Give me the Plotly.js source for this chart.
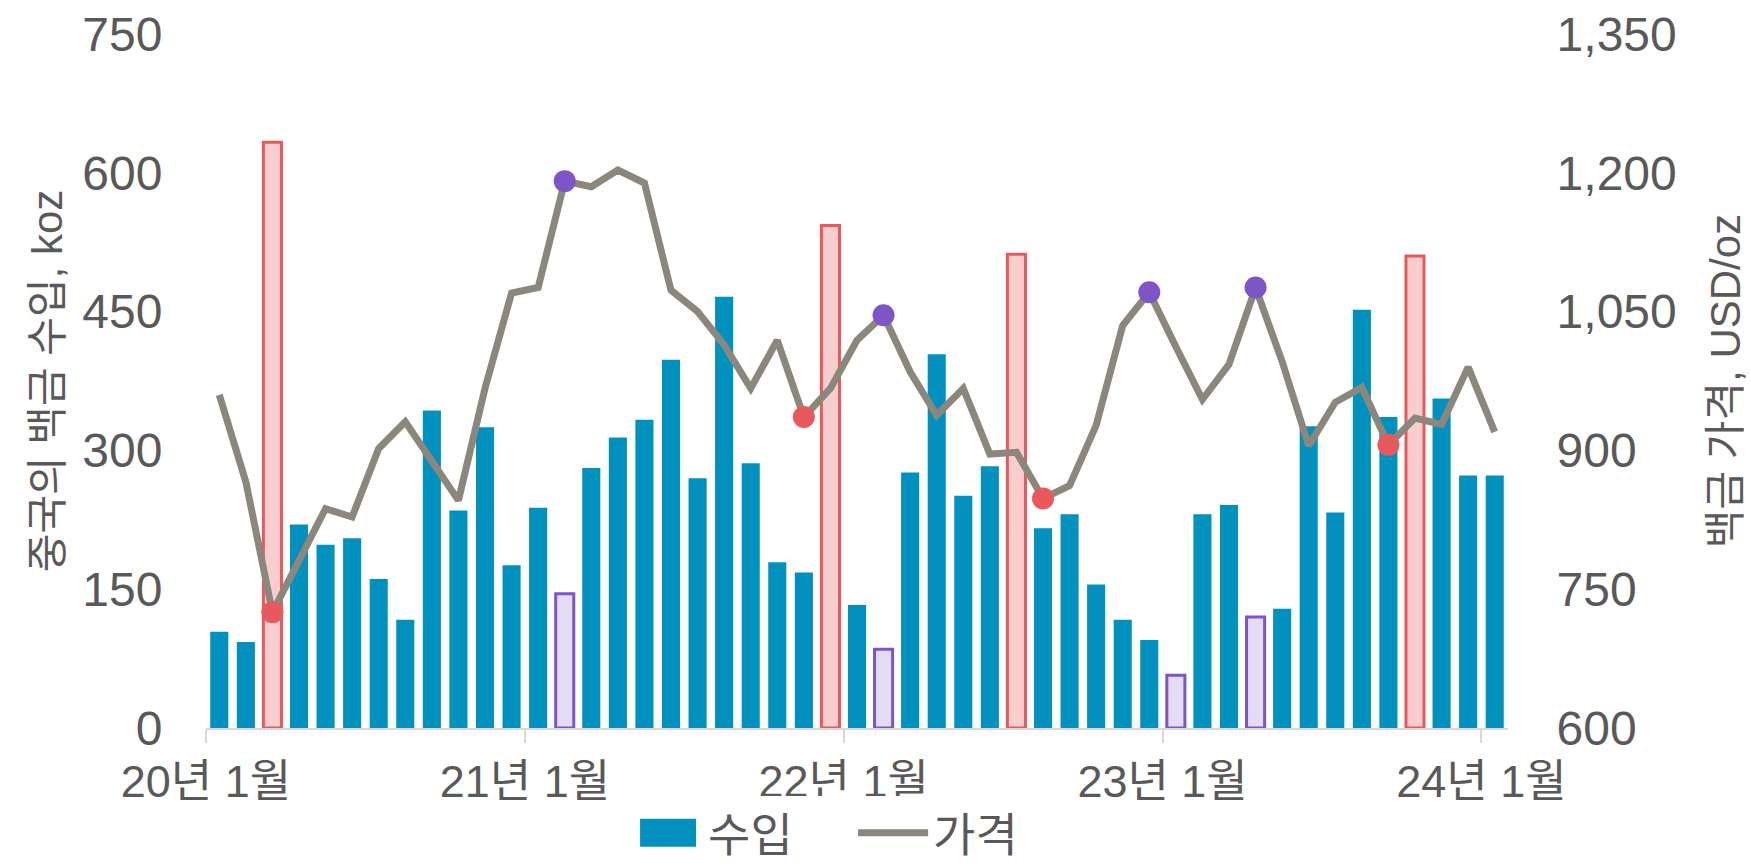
<!DOCTYPE html>
<html>
<head>
<meta charset="utf-8">
<script src="https://cdn.plot.ly/plotly-3.0.1.min.js"></script>
<style>
  html, body { margin: 0; padding: 0; background: #ffffff; }
  #chart { width: 1751px; height: 867px; }
</style>
</head>
<body>
<div id="chart"></div>
<script>
// Months: 2020-01 .. 2024-01
const months = [
  '2020-01','2020-02','2020-03','2020-04','2020-05','2020-06','2020-07','2020-08','2020-09','2020-10','2020-11','2020-12',
  '2021-01','2021-02','2021-03','2021-04','2021-05','2021-06','2021-07','2021-08','2021-09','2021-10','2021-11','2021-12',
  '2022-01','2022-02','2022-03','2022-04','2022-05','2022-06','2022-07','2022-08','2022-09','2022-10','2022-11','2022-12',
  '2023-01','2023-02','2023-03','2023-04','2023-05','2023-06','2023-07','2023-08','2023-09','2023-10','2023-11','2023-12',
  '2024-01'
];

// China platinum imports, koz
const imports = [
  104, 93, 633, 220, 198, 205, 161, 117, 343, 235, 325, 176,
  238, 145, 281, 314, 333, 398, 270, 466, 286, 179, 168, 543,
  133, 85, 276, 404, 251, 283, 512, 216, 231, 155, 117, 95,
  57, 231, 241, 120, 129, 326, 233, 452, 336, 510, 356, 273,
  273
];

// Platinum price, USD/oz
const prices = [
  960, 866, 725, 781, 837, 828, 902, 931, 889, 846, 967, 1070,
  1076, 1191, 1185, 1203, 1189, 1073, 1050, 1014, 967, 1019, 936, 967,
  1019, 1046, 985, 938, 967, 896, 898, 848, 862, 927, 1035, 1071,
  1012, 955, 993, 1076, 996, 905, 952, 968, 906, 935, 928, 990,
  920
];

// Highlighted months (by month label)
const redBarMonths = ['2020-03', '2021-12', '2022-07', '2023-10'];
const purpleBarMonths = ['2021-02', '2022-02', '2023-01', '2023-04'];
const redPointMonths = ['2020-03', '2021-11', '2022-08', '2023-09'];
const purplePointMonths = ['2021-02', '2022-02', '2022-12', '2023-04'];

// Tick labels
const tickMonths = ['2020-01', '2021-01', '2022-01', '2023-01', '2024-01'];
const tickLabels = ['20년 1월', '21년 1월', '22년 1월', '23년 1월', '24년 1월'];

const seriesNames = { bars: '수입', line: '가격' };
const yTitleLeft = '중국의 백금 수입, koz';
const yTitleRight = '백금 가격, USD/oz';

// ---- styling ----
const BLUE = '#0091BE';
const RED_LINE = '#E8595E', RED_FILL = '#F8CDCE';
const PUR_LINE = '#7E55C6', PUR_FILL = '#E3DCF2';
const GREY_LINE = '#8C877D';
const TEXT = '#595959';
const FONT = 'Liberation Sans, Arial, Noto Sans CJK KR, sans-serif';

const xIdx = months.map((m, i) => i);
const idxOf = m => months.indexOf(m);

const barFill = months.map(m => redBarMonths.includes(m) ? RED_FILL : (purpleBarMonths.includes(m) ? PUR_FILL : BLUE));
const barLine = months.map(m => redBarMonths.includes(m) ? RED_LINE : (purpleBarMonths.includes(m) ? PUR_LINE : BLUE));
const barLineW = months.map(m => (redBarMonths.includes(m) || purpleBarMonths.includes(m)) ? 3 : 0);

const ptMonths = redPointMonths.concat(purplePointMonths);
const ptX = ptMonths.map(idxOf);
const ptY = ptMonths.map(m => prices[idxOf(m)]);
const ptC = ptMonths.map(m => redPointMonths.includes(m) ? RED_LINE : PUR_LINE);

const traces = [
  {
    type: 'bar', name: seriesNames.bars, x: xIdx, y: imports, yaxis: 'y',
    marker: { color: barFill, line: { color: barLine, width: barLineW } },
    hoverinfo: 'skip'
  },
  {
    type: 'scatter', mode: 'lines', name: seriesNames.line, x: xIdx, y: prices, yaxis: 'y2',
    line: { color: GREY_LINE, width: 7 }, hoverinfo: 'skip'
  },
  {
    type: 'scatter', mode: 'markers', x: ptX, y: ptY, yaxis: 'y2', showlegend: false,
    marker: { color: ptC, size: 22, line: { width: 0 } }, hoverinfo: 'skip'
  }
];

const layout = {
  width: 1751, height: 867,
  margin: { l: 206, r: 243, t: 34, b: 139, autoexpand: false },
  paper_bgcolor: '#ffffff', plot_bgcolor: '#ffffff',
  font: { family: FONT, color: TEXT, size: 44 },
  bargap: 0.32,
  showlegend: true,
  legend: {
    orientation: 'h', x: 0.497, xanchor: 'center', y: -0.151, yanchor: 'middle',
    font: { size: 46, color: TEXT, family: FONT }, itemwidth: 70, traceorder: 'normal',
    entrywidth: 140, entrywidthmode: 'pixels'
  },
  xaxis: {
    range: [-0.5, 48.5],
    tickmode: 'array',
    tickvals: tickMonths.map(m => idxOf(m) - 0.5),
    ticktext: tickLabels,
    ticks: 'outside', ticklen: 13, tickwidth: 2, tickcolor: '#D9D9D9',
    showline: true, linecolor: '#D9D9D9', linewidth: 2,
    showgrid: false, zeroline: false,
    tickfont: { size: 45, color: TEXT, family: FONT }
  },
  yaxis: {
    range: [0, 750], tickvals: [0, 150, 300, 450, 600, 750],
    ticks: 'outside', ticklen: 33, tickcolor: 'rgba(0,0,0,0)',
    showline: false, showgrid: false, zeroline: false,
    tickfont: { size: 48, color: TEXT, family: FONT },
    title: { text: yTitleLeft, font: { size: 42, color: TEXT, family: FONT }, standoff: 6 }
  },
  yaxis2: {
    range: [600, 1350], tickvals: [600, 750, 900, 1050, 1200, 1350],
    tickformat: ',d', overlaying: 'y', side: 'right',
    ticks: 'outside', ticklen: 38, tickcolor: 'rgba(0,0,0,0)',
    showline: false, showgrid: false, zeroline: false,
    tickfont: { size: 48, color: TEXT, family: FONT },
    title: { text: yTitleRight, font: { size: 42, color: TEXT, family: FONT }, standoff: 34 }
  }
};

Plotly.newPlot('chart', traces, layout, { staticPlot: true, displayModeBar: false }).then(function (gd) {
  // enlarge the legend's bar swatch to match the reference's larger square
  const items = gd.querySelectorAll('.legend .traces');
  if (items.length) {
    const p = items[0].querySelector('.legendpoints path');
    if (p) p.setAttribute('d', 'M28,14H-28V-14H28Z');
  }
});
</script>
</body>
</html>
